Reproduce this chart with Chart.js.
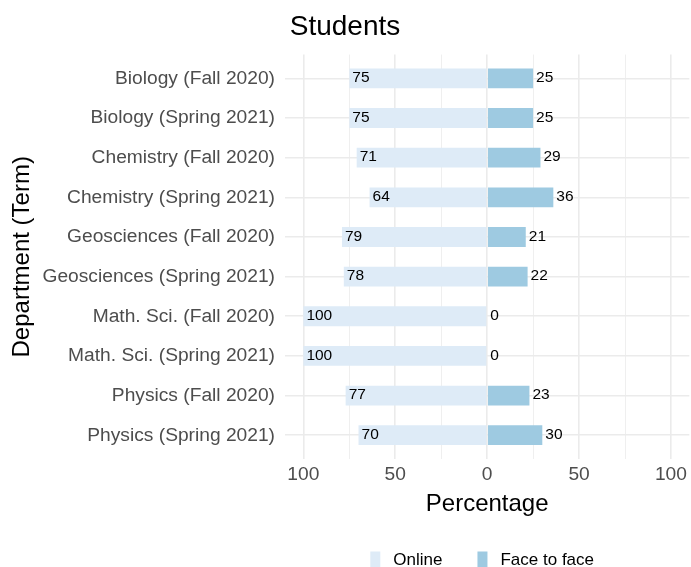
<!DOCTYPE html>
<html>
<head>
<meta charset="utf-8">
<script src="https://cdn.jsdelivr.net/npm/chart.js@4"></script>
<style>
  html, body { margin: 0; padding: 0; background: #ffffff; }
  #wrap { width: 691px; height: 567px; position: relative; }
</style>
</head>
<body>
<div id="wrap"><canvas id="c" width="691" height="567"></canvas></div>
<script>
const categories = [
  "Biology (Fall 2020)",
  "Biology (Spring 2021)",
  "Chemistry (Fall 2020)",
  "Chemistry (Spring 2021)",
  "Geosciences (Fall 2020)",
  "Geosciences (Spring 2021)",
  "Math. Sci. (Fall 2020)",
  "Math. Sci. (Spring 2021)",
  "Physics (Fall 2020)",
  "Physics (Spring 2021)"
];
const onlineValues = [75, 75, 71, 64, 79, 78, 100, 100, 77, 70];
const faceValues = [25, 25, 29, 36, 21, 22, 0, 0, 23, 30];
const xTickValues = [-100, -75, -50, -25, 0, 25, 50, 75, 100];
const seriesNames = ["Online", "Face to face"];
const seriesColors = ["#DEEBF7", "#9ECAE1"];

const FONT = "'Liberation Sans', Arial, Helvetica, sans-serif";
const GRID = "#EBEBEB";

const valueLabels = {
  id: 'valueLabels',
  afterDatasetsDraw(chart) {
    const ctx = chart.ctx;
    ctx.save();
    ctx.font = "15.5px " + FONT;
    ctx.fillStyle = "#000000";
    ctx.textAlign = "left";
    ctx.textBaseline = "middle";
    chart.data.datasets.forEach((ds, di) => {
      const meta = chart.getDatasetMeta(di);
      meta.data.forEach((bar, i) => {
        const raw = di === 0 ? onlineValues[i] : faceValues[i];
        ctx.fillText(String(raw), bar.x + 3, bar.y - 0.5);
      });
    });
    ctx.restore();
  }
};

const customLegend = {
  id: 'customLegend',
  afterDraw(chart) {
    const ctx = chart.ctx;
    const area = chart.chartArea;
    ctx.save();
    ctx.font = "17px " + FONT;
    ctx.textBaseline = "middle";
    ctx.textAlign = "left";
    const keyW = 10, keyH = 17, gap = 13, itemGap = 35;
    const widths = seriesNames.map(n => keyW + gap + ctx.measureText(n).width);
    const total = widths.reduce((a, b) => a + b, 0) + itemGap * (seriesNames.length - 1);
    let x = (area.left + area.right) / 2 - 5 - total / 2;
    const yc = chart.height - 7;
    seriesNames.forEach((n, i) => {
      ctx.fillStyle = seriesColors[i];
      ctx.fillRect(x, yc - keyH / 2, keyW, keyH);
      ctx.fillStyle = "#000000";
      ctx.fillText(n, x + keyW + gap, yc);
      x += widths[i] + itemGap;
    });
    ctx.restore();
  }
};

new Chart(document.getElementById('c'), {
  type: 'bar',
  data: {
    datasets: [
      {
        label: seriesNames[0],
        data: onlineValues.map((v, i) => ({ x: -v, y: i })),
        backgroundColor: seriesColors[0],
        borderWidth: 0,
        grouped: false,
        barPercentage: 0.5,
        categoryPercentage: 1.0
      },
      {
        label: seriesNames[1],
        data: faceValues.map((v, i) => ({ x: v, y: i })),
        backgroundColor: seriesColors[1],
        borderWidth: 0,
        grouped: false,
        barPercentage: 0.5,
        categoryPercentage: 1.0
      }
    ]
  },
  options: {
    indexAxis: 'y',
    responsive: false,
    animation: false,
    layout: { padding: { left: 0, right: 1, top: 0, bottom: 48 } },
    plugins: {
      legend: { display: false },
      tooltip: { enabled: false },
      title: {
        display: true,
        text: "Students",
        color: "#000000",
        font: { family: FONT, size: 28, weight: 'normal' },
        padding: { top: 10, bottom: 11 }
      }
    },
    scales: {
      x: {
        type: 'linear',
        min: -110,
        max: 110,
        afterBuildTicks: (scale) => { scale.ticks = xTickValues.map(v => ({ value: v })); },
        afterFit: (scale) => { scale.height = 60; },
        ticks: {
          autoSkip: false,
          maxRotation: 0,
          padding: 4,
          color: "#4D4D4D",
          font: { family: FONT, size: 19.2 },
          callback: (v) => (v % 50 === 0 ? String(Math.abs(v)) : '')
        },
        grid: {
          color: GRID,
          drawTicks: false,
          lineWidth: (c) => (c.tick && c.tick.value % 50 === 0 ? 1.6 : 0.8)
        },
        border: { display: false },
        title: {
          display: true,
          text: "Percentage",
          color: "#000000",
          font: { family: FONT, size: 24 },
          padding: { top: 5, bottom: 0 }
        }
      },
      y: {
        type: 'linear',
        reverse: true,
        offset: false,
        min: -0.6,
        max: categories.length - 0.4,
        afterBuildTicks: (scale) => { scale.ticks = categories.map((_, i) => ({ value: i })); },
        afterFit: (scale) => { scale.width = 285; },
        ticks: {
          autoSkip: false,
          padding: 10,
          color: "#4D4D4D",
          font: { family: FONT, size: 19.2 },
          callback: (v) => categories[v]
        },
        grid: {
          color: GRID,
          drawTicks: false,
          offset: false,
          lineWidth: 1.6
        },
        border: { display: false },
        title: {
          display: true,
          text: "Department (Term)",
          color: "#000000",
          font: { family: FONT, size: 24 },
          padding: { top: 8, bottom: 0 }
        }
      }
    }
  },
  plugins: [valueLabels, customLegend]
});
</script>
</body>
</html>
